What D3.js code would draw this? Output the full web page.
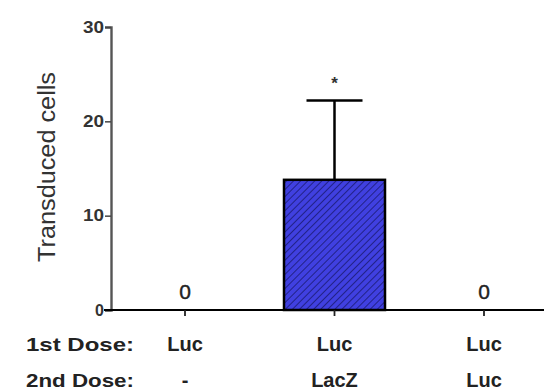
<!DOCTYPE html>
<html>
<head>
<meta charset="utf-8">
<script src="https://cdn.jsdelivr.net/npm/d3@7"></script>
<style>
  body { margin: 0; background: #fff; }
  text { font-family: "Liberation Sans", Arial, sans-serif; }
</style>
</head>
<body>
<div id="chart"></div>
<script>
const groups = ['g1', 'g2', 'g3'];
const firstDose = ['Luc', 'Luc', 'Luc'];
const secondDose = ['-', 'LacZ', 'Luc'];
const means = [0, 13.8, 0];
const errors = [0, 8.4, 0];
const stars = ['', '*', ''];
const yTicks = [0, 10, 20, 30];

const width = 544, height = 390;
const svg = d3.select('#chart').append('svg')
    .attr('width', width).attr('height', height);

const x = d3.scalePoint().domain(groups).range([185, 484]);
const y = d3.scaleLinear().domain([0, 30]).range([310, 27]);
const barW = 101;

// hatch pattern
const defs = svg.append('defs');
const pat = defs.append('pattern')
    .attr('id', 'hatch')
    .attr('patternUnits', 'userSpaceOnUse')
    .attr('width', 5).attr('height', 5)
    .attr('patternTransform', 'rotate(45)');
pat.append('rect').attr('width', 5).attr('height', 5).attr('fill', '#4040e0');
pat.append('line').attr('x1', 0).attr('y1', 0).attr('x2', 0).attr('y2', 5)
    .attr('stroke', '#1a1a70').attr('stroke-width', 1.6);

// y axis
const yAxis = svg.append('g')
    .attr('transform', 'translate(111,0)')
    .call(d3.axisLeft(y).tickValues(yTicks).tickSize(6).tickPadding(1));
yAxis.select('.domain').attr('stroke', '#555').attr('stroke-width', 2.4);
yAxis.selectAll('.tick line').attr('stroke', '#444').attr('stroke-width', 1.5);
yAxis.selectAll('.tick text')
    .attr('font-size', 16).attr('font-weight', 'bold').attr('fill', '#333')
    .attr('textLength', 21).attr('lengthAdjust', 'spacingAndGlyphs');
yAxis.selectAll('.tick text').filter(d => d === 0).attr('textLength', null);

svg.append('text')
    .attr('transform', 'translate(55,167) rotate(-90)')
    .attr('text-anchor', 'middle')
    .attr('font-size', 23).attr('fill', '#333')
    .attr('textLength', 190).attr('lengthAdjust', 'spacingAndGlyphs')
    .text('Transduced cells');

// bars
const bars = means.map((m, i) => ({g: groups[i], m, e: errors[i], s: stars[i]}));

svg.selectAll('.bar')
    .data(bars.filter(d => d.m > 0))
    .enter().append('rect')
    .attr('class', 'bar')
    .attr('x', d => x(d.g) - barW / 2)
    .attr('y', d => y(d.m))
    .attr('width', barW)
    .attr('height', d => y(0) - y(d.m))
    .attr('fill', 'url(#hatch)')
    .attr('stroke', '#000').attr('stroke-width', 2.5);

// error bars
const eb = svg.selectAll('.err')
    .data(bars.filter(d => d.e > 0))
    .enter().append('g').attr('class', 'err');
eb.append('line')
    .attr('x1', d => x(d.g)).attr('x2', d => x(d.g))
    .attr('y1', d => y(d.m)).attr('y2', d => y(d.m + d.e))
    .attr('stroke', '#000').attr('stroke-width', 2.5);
eb.append('line')
    .attr('x1', d => x(d.g) - 28).attr('x2', d => x(d.g) + 28)
    .attr('y1', d => y(d.m + d.e)).attr('y2', d => y(d.m + d.e))
    .attr('stroke', '#000').attr('stroke-width', 2.5);

svg.selectAll('.star')
    .data(bars.filter(d => d.s))
    .enter().append('text')
    .attr('x', d => x(d.g))
    .attr('y', d => y(d.m + d.e) - 12)
    .attr('text-anchor', 'middle')
    .attr('font-size', 17).attr('font-weight', 'bold').attr('fill', '#333')
    .text(d => d.s);

// zero labels
svg.selectAll('.zero')
    .data(bars.filter(d => d.m === 0))
    .enter().append('text')
    .attr('x', d => x(d.g))
    .attr('y', y(0) - 11)
    .attr('text-anchor', 'middle')
    .attr('font-size', 21).attr('fill', '#222')
    .attr('stroke', '#222').attr('stroke-width', 0.4)
    .text(d => d.m);

// x axis
svg.append('line')
    .attr('x1', 104).attr('x2', width)
    .attr('y1', y(0)).attr('y2', y(0))
    .attr('stroke', '#000').attr('stroke-width', 2.2);
svg.selectAll('.xtick')
    .data(groups).enter().append('line')
    .attr('x1', d => x(d)).attr('x2', d => x(d))
    .attr('y1', y(0)).attr('y2', y(0) + 6)
    .attr('stroke', '#222').attr('stroke-width', 1.8);

// dose rows
const rows = [
  {label: '1st Dose:', vals: firstDose, yy: 351},
  {label: '2nd Dose:', vals: secondDose, yy: 387}
];
rows.forEach(r => {
  svg.append('text')
      .attr('x', 134).attr('y', r.yy)
      .attr('text-anchor', 'end')
      .attr('font-size', 19).attr('font-weight', 'bold').attr('fill', '#222')
      .attr('textLength', 108).attr('lengthAdjust', 'spacingAndGlyphs')
      .text(r.label);
  svg.selectAll(null)
      .data(groups).enter().append('text')
      .attr('x', d => x(d)).attr('y', r.yy)
      .attr('text-anchor', 'middle')
      .attr('font-size', 20).attr('font-weight', 'bold').attr('fill', '#222')
      .text((d, i) => r.vals[i]);
});
</script>
</body>
</html>
